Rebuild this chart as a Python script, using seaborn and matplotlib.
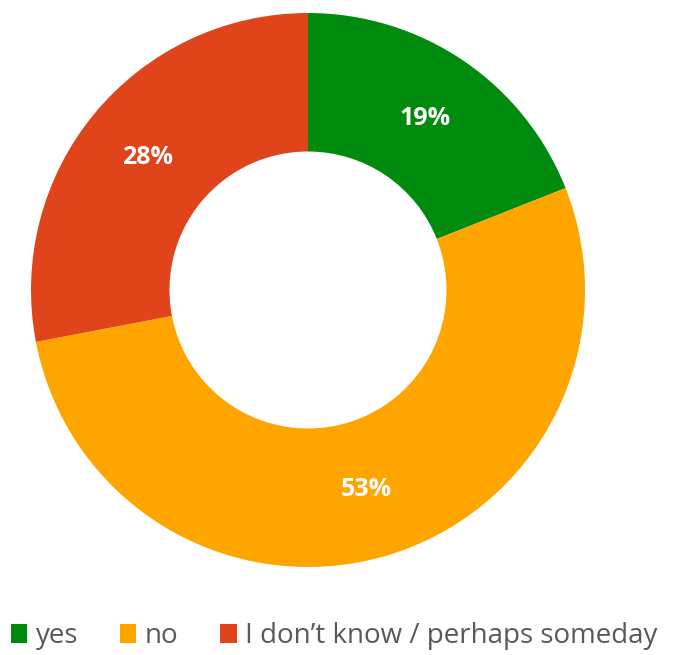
import matplotlib
matplotlib.use("Agg")
import matplotlib.pyplot as plt
import seaborn as sns
from matplotlib.patches import Patch

categories = ["yes", "no", "I don\u2019t know / perhaps someday"]
values = [19, 53, 28]
colors = ["#008A0E", "#FFA500", "#E0441A"]

sns.set_theme(style="white")
plt.rcParams['font.family'] = ['Open Sans', 'DejaVu Sans']

fig = plt.figure(figsize=(6.76, 6.55), dpi=100)
ax = fig.add_axes([31/676, (655-567)/655, 554/676, 554/655])

wedges, texts, autotexts = ax.pie(
    values, colors=colors, startangle=90, counterclock=False,
    radius=1.0, autopct=lambda p: f"{p:.0f}%", pctdistance=0.75,
    wedgeprops=dict(width=0.5, linewidth=0),
    textprops=dict(color="white", fontsize=18, fontweight="bold"))
ax.set_xlim(-1, 1)
ax.set_ylim(-1, 1)
ax.set_aspect("equal")
ax.axis("off")

handles = [Patch(facecolor=c, edgecolor="none") for c in colors]
leg = fig.legend(handles, categories, loc="center", bbox_to_anchor=(334/676, 1 - 636/655),
                 ncol=3, frameon=False, fontsize=20, handlelength=0.6, handleheight=0.7,
                 handletextpad=0.3, columnspacing=1.5, labelcolor="#595959",
                 borderpad=0, borderaxespad=0)

fig.savefig("out.png", dpi=100)
